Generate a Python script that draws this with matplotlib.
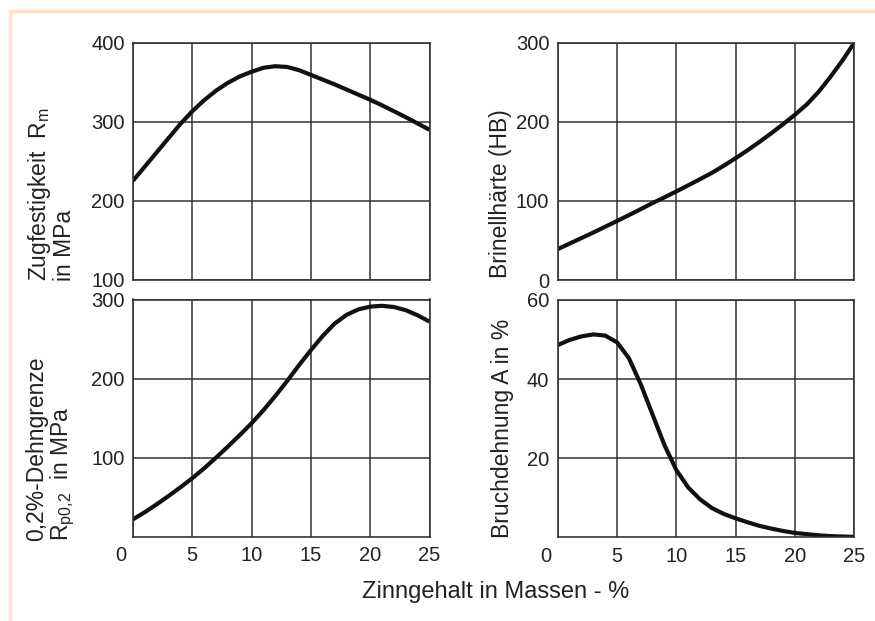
import numpy as np
import matplotlib
matplotlib.use("Agg")
from matplotlib import pyplot as plt
from matplotlib.lines import Line2D
from matplotlib.transforms import ScaledTranslation

plt.rcParams["font.family"] = ["Liberation Sans", "DejaVu Sans"]
plt.rcParams["mathtext.fontset"] = "custom"
plt.rcParams["mathtext.rm"] = "Liberation Sans"
plt.rcParams["mathtext.it"] = "Liberation Sans"

# Zinngehalt in Massen-%
zinn = [0, 1, 2, 3, 4, 5, 6, 7, 8, 9, 10, 11, 12, 13, 14, 15, 16, 17, 18, 19, 20, 21, 22, 23, 24, 25]

# Zugfestigkeit Rm in MPa
rm = [225, 243, 261, 279, 297, 313, 327, 339, 349, 357, 363, 368, 370, 369, 365, 359,
      353, 347, 340.5, 334, 327.5, 320.5, 313, 305.5, 297.5, 289.5]
# Brinellhaerte HB
hb = [39, 46, 53, 60, 67.3, 74.6, 82, 89.6, 97.3, 104.5, 112, 119.7, 127.5, 135.5, 144.5, 154,
      164, 174.5, 185.5, 197, 209, 222, 238, 257, 277.5, 300]
# 0,2%-Dehngrenze Rp0,2 in MPa
rp = [22, 31, 41, 51.5, 62.5, 74, 86.5, 100, 114, 128.5, 143.5, 160, 178, 197, 217, 236,
      254, 269.5, 280.5, 287.5, 291, 292, 290.5, 286.5, 280, 272]
# Bruchdehnung A in %
bruch = [48.6, 49.9, 50.8, 51.3, 51.0, 49.3, 45.3, 38.7, 31.0, 23.3, 17.0, 12.6, 9.6, 7.4,
         5.9, 4.8, 3.8, 2.9, 2.2, 1.6, 1.1, 0.8, 0.5, 0.3, 0.2, 0.1]

x_ticks = [0, 5, 10, 15, 20, 25]

W, H = 875, 621
fig = plt.figure(figsize=(W / 100, H / 100), dpi=100)
fig.patch.set_facecolor("white")


def px_axes(x0, y0, x1, y1):
    # axes rectangle given in pixel corners (top-left origin)
    return fig.add_axes([x0 / W, 1 - y1 / H, (x1 - x0) / W, (y1 - y0) / H])


def style(ax, ylim, yticks, show_x):
    ax.set_xlim(0, 25)
    ax.set_ylim(*ylim)
    ax.set_xticks(x_ticks)
    ax.set_yticks(yticks)
    ax.grid(True, color="#333333", linewidth=1.1)
    ax.set_axisbelow(True)
    ax.tick_params(length=0, labelsize=14.5, colors="#222222", pad=6)
    for s in ax.spines.values():
        s.set_color("#333333")
        s.set_linewidth(1.2)
    if show_x:
        ax.tick_params(axis="x", pad=7)
        lab0 = ax.get_xticklabels()[0]
        lab0.set_transform(lab0.get_transform() + ScaledTranslation(-12 / 100, 0, fig.dpi_scale_trans))
    else:
        ax.set_xticklabels([])


curve = dict(color="#111111", linewidth=3.0, solid_capstyle="butt", solid_joinstyle="round")

ax1 = px_axes(133, 42.5, 429.5, 279.5)
ax1.plot(zinn, rm, **curve)
style(ax1, (100, 400), [100, 200, 300, 400], False)

ax2 = px_axes(557.7, 42.7, 854.3, 280)
ax2.plot(zinn, hb, **curve)
style(ax2, (0, 300), [0, 100, 200, 300], False)

ax3 = px_axes(133, 299.5, 429.5, 536.7)
ax3.plot(zinn, rp, **curve)
style(ax3, (0, 300), [100, 200, 300], True)

ax4 = px_axes(557.7, 300, 854.3, 537.3)
ax4.plot(zinn, bruch, **curve)
style(ax4, (0, 60), [20, 40, 60], True)

lab = dict(rotation=90, ha="center", va="bottom", multialignment="left",
           fontsize=16.5, color="#222222", linespacing=1.05)
fig.text(51 / W, 1 - 281 / H, "Zugfestigkeit  R$_\\mathrm{m}$\nin MPa", **lab)
fig.text(51 / W, 1 - 541 / H, "0,2%-Dehngrenze\nR$_\\mathrm{p0{,}2}$  in MPa", **lab)
fig.text(500 / W, 1 - 278 / H, "Brinellhärte (HB)", **lab)
fig.text(502 / W, 1 - 538 / H, "Bruchdehnung A in %", **lab)

fig.text(496 / W, 1 - 592 / H, "Zinngehalt in Massen - %", ha="center", va="center",
         fontsize=17, color="#222222")

# light frame along the top and left edge
frame = "#fde3cc"
fig.add_artist(Line2D([10 / W, 10 / W], [0, 1 - 11 / H], color=frame, linewidth=2.5,
                      transform=fig.transFigure))
fig.add_artist(Line2D([10 / W, 1], [1 - 11 / H, 1 - 11 / H], color=frame, linewidth=2.5,
                      transform=fig.transFigure))

fig.savefig("out.png", dpi=100)
